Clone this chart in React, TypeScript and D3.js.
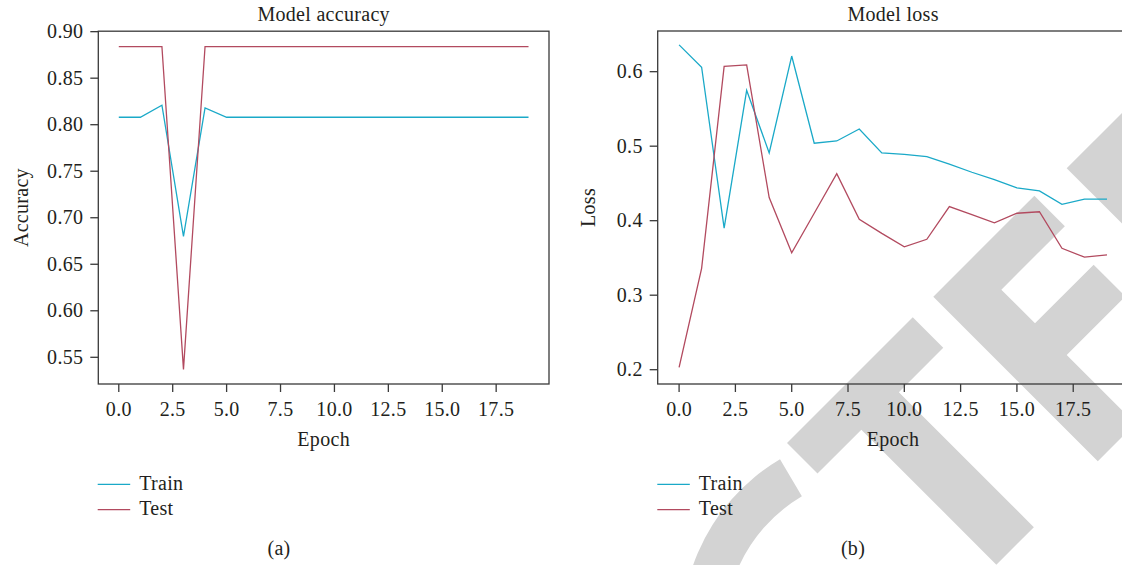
import React from 'react';
import * as d3 from 'd3';

// ---------- data ----------
const epochs = [0, 1, 2, 3, 4, 5, 6, 7, 8, 9, 10, 11, 12, 13, 14, 15, 16, 17, 18, 19];
const trainAcc = [0.808, 0.808, 0.821, 0.680, 0.818, 0.808, 0.808, 0.808, 0.808, 0.808, 0.808, 0.808, 0.808, 0.808, 0.808, 0.808, 0.808, 0.808, 0.808, 0.808];
const testAcc = [0.884, 0.884, 0.884, 0.537, 0.884, 0.884, 0.884, 0.884, 0.884, 0.884, 0.884, 0.884, 0.884, 0.884, 0.884, 0.884, 0.884, 0.884, 0.884, 0.884];
const trainLoss = [0.636, 0.606, 0.390, 0.575, 0.491, 0.621, 0.504, 0.507, 0.523, 0.491, 0.489, 0.486, 0.476, 0.465, 0.455, 0.444, 0.440, 0.422, 0.429, 0.429];
const testLoss = [0.203, 0.336, 0.607, 0.609, 0.431, 0.357, 0.410, 0.463, 0.402, 0.383, 0.365, 0.375, 0.419, 0.408, 0.397, 0.410, 0.412, 0.363, 0.351, 0.354];
const xTicks = [0, 2.5, 5, 7.5, 10, 12.5, 15, 17.5];
const accTicks = [0.55, 0.6, 0.65, 0.7, 0.75, 0.8, 0.85, 0.9];
const lossTicks = [0.2, 0.3, 0.4, 0.5, 0.6];
const seriesNames = ['Train', 'Test'];
const seriesColors = ['#1aa9c8', '#b24a5f'];

const FONT = '"Liberation Serif", "Times New Roman", serif';
const FS = 20;
const AXIS = '#3a3a3a';
const WM = '#d3d3d3';

type PanelProps = {
  box: { x0: number; x1: number; y0: number; y1: number };
  xDomain: [number, number];
  yDomain: [number, number];
  yTicks: number[];
  yFmt: (v: number) => string;
  title: string;
  ylabel: string;
  ylabelX: number;
  series: number[][];
  legendX: number;
  caption: string;
  captionX: number;
};

function Panel(p: PanelProps) {
  const { box } = p;
  const x = d3.scaleLinear().domain(p.xDomain).range([box.x0, box.x1]);
  const y = d3.scaleLinear().domain(p.yDomain).range([box.y1, box.y0]);
  const line = d3
    .line<number>()
    .x((_, i) => x(epochs[i]))
    .y((d) => y(d));
  const cx = (box.x0 + box.x1) / 2;
  const cy = (box.y0 + box.y1) / 2;
  const legendRows = [484.3, 509.7];
  return (
    <g fontFamily={FONT} fontSize={FS} fill="#231f20" letterSpacing={0.3}>
      {p.series.map((s, i) => (
        <path key={i} d={line(s) || ''} fill="none" stroke={seriesColors[i]} strokeWidth={1.3} strokeLinejoin="miter" />
      ))}
      <rect x={box.x0} y={box.y0} width={box.x1 - box.x0} height={box.y1 - box.y0} fill="none" stroke={AXIS} strokeWidth={1.3} />
      {p.yTicks.map((t) => (
        <g key={'y' + t}>
          <line x1={box.x0 - 8} x2={box.x0} y1={y(t)} y2={y(t)} stroke={AXIS} strokeWidth={1.3} />
          <text x={box.x0 - 15} y={y(t) + 6.6} textAnchor="end">{p.yFmt(t)}</text>
        </g>
      ))}
      {xTicks.map((t) => (
        <g key={'x' + t}>
          <line x1={x(t)} x2={x(t)} y1={box.y1} y2={box.y1 + 8} stroke={AXIS} strokeWidth={1.3} />
          <text x={x(t)} y={416} textAnchor="middle">{t.toFixed(1)}</text>
        </g>
      ))}
      <text x={cx} y={21} textAnchor="middle">{p.title}</text>
      <text x={cx} y={446} textAnchor="middle">Epoch</text>
      <text transform={`translate(${p.ylabelX},${cy}) rotate(-90)`} textAnchor="middle">{p.ylabel}</text>
      {seriesNames.map((n, i) => (
        <g key={n}>
          <line x1={p.legendX} x2={p.legendX + 32.5} y1={legendRows[i]} y2={legendRows[i]} stroke={seriesColors[i]} strokeWidth={1.3} />
          <text x={p.legendX + 41.5} y={legendRows[i] + 5.6}>{n}</text>
        </g>
      ))}
      <text x={p.captionX} y={555} textAnchor="middle">{p.caption}</text>
    </g>
  );
}

function Watermark() {
  const T = [
    [787, 443], [912.75, 317.25], [943.25, 347.75], [898.85, 392.15],
    [1033.85, 527.15], [996.35, 564.65], [861.35, 429.65], [817.5, 473.5],
  ];
  const E = [
    [933.3, 296.7], [1034.35, 195.65], [1064.85, 226.15], [1001.35, 289.65],
    [1035, 323.3], [1093.65, 264.65], [1125.35, 296.35], [1066.7, 355],
    [1130, 418.3], [1130, 429], [1097.8, 461.2],
  ];
  const C = [[1066.7, 168.3], [1130, 105], [1130, 231.6]];
  const pts = (a: number[][]) => a.map((q) => q.join(',')).join(' ');
  const arc = d3.arc()({ innerRadius: 157, outerRadius: 200, startAngle: -1.8, endAngle: -0.534 } as any) || '';
  return (
    <g fill={WM}>
      <polygon points={pts(T)} />
      <polygon points={pts(E)} />
      <polygon points={pts(C)} />
      <path d={arc} transform="translate(881.8,631.4)" />
    </g>
  );
}

export default function App() {
  return (
    <svg
      width={1122}
      height={565}
      viewBox="0 0 1122 565"
      style={{ position: 'absolute', left: 0, top: 0, background: '#fff', display: 'block' }}
    >
      <rect x={0} y={0} width={1122} height={565} fill="#fff" />
      <Watermark />
      <Panel
        box={{ x0: 98.3, x1: 549, y0: 31.2, y1: 384 }}
        xDomain={[-0.95, 19.95]}
        yDomain={[0.5213, 0.9005]}
        yTicks={accTicks}
        yFmt={(v) => v.toFixed(2)}
        title="Model accuracy"
        ylabel="Accuracy"
        ylabelX={28}
        series={[trainAcc, testAcc]}
        legendX={97.7}
        caption="(a)"
        captionX={279}
      />
      <Panel
        box={{ x0: 657.7, x1: 1128.4, y0: 31, y1: 384 }}
        xDomain={[-0.95, 19.95]}
        yDomain={[0.1808, 0.6546]}
        yTicks={lossTicks}
        yFmt={(v) => v.toFixed(1)}
        title="Model loss"
        ylabel="Loss"
        ylabelX={595}
        series={[trainLoss, testLoss]}
        legendX={657.3}
        caption="(b)"
        captionX={853}
      />
    </svg>
  );
}
